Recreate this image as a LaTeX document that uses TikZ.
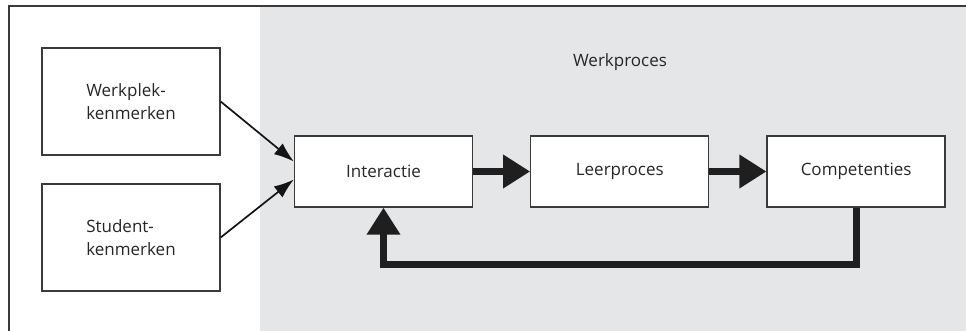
\documentclass[tikz,border=0pt]{standalone}
\usepackage{fontspec}
\setmainfont{Open Sans}
\usetikzlibrary{positioning, arrows.meta}

\definecolor{procgray}{HTML}{E5E6E8}
\definecolor{linegray}{HTML}{3A3A3A}
\definecolor{textgray}{HTML}{262626}

\begin{document}
\begin{tikzpicture}[x=1pt, y=-1pt, node distance=57pt,
    box/.style={draw=linegray, line width=1.3pt, fill=white, text=textgray,
        font=\fontsize{17}{23}\selectfont},
    inbox/.style={box, minimum width=178pt, minimum height=107pt, align=left},
    procbox/.style={box, minimum width=178pt, minimum height=71pt},
    thin arrow/.style={-{Latex[length=20pt, width=14pt]}, line width=1.7pt, draw=black!92},
    thick arrow/.style={-{Triangle[length=27pt, width=32pt]}, line width=7pt, draw=black!88}]
    % Canvas and Werkproces area
    \useasboundingbox (0,0) rectangle (966,331);
    \clip (0,0) rectangle (966,331);
    \fill[procgray] (260,6) rectangle (980,345);
    \draw[linegray, line width=1.4pt] (9,345) -- (9,6) -- (980,6);
    \node[text=textgray, font=\fontsize{17}{20}\selectfont] (werkproces) at (620,62) {Werkproces};

    % Input characteristics
    \node[inbox] (werkplek) at (131,101.5) {Werkplek-\\kenmerken};
    \node[inbox] (student) at (131,237.5) {Student-\\kenmerken};

    % Process chain
    \node[procbox] (inter) at (383.5,171.5) {Interactie};
    \node[procbox] (leer) [right=of inter] {Leerproces};
    \node[procbox] (comp) [right=of leer] {Competenties};

    % Connectors
    \draw[thin arrow] (werkplek.east) -- ([yshift=10pt]inter.west);
    \draw[thin arrow] (student.east) -- ([yshift=-8pt]inter.west);
    \draw[thick arrow] (inter) -- (leer);
    \draw[thick arrow] (leer) -- (comp);
    % Feedback loop
    \draw[thick arrow] (comp.south) -- ++(0,57) -| (inter.south);

\end{tikzpicture}
\end{document}
